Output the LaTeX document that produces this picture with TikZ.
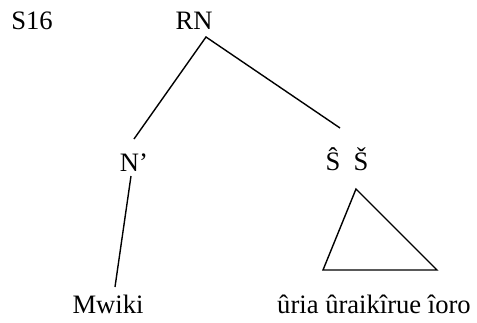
\documentclass[tikz,border=0pt]{standalone}
\usepackage{fontspec}
\setmainfont{Liberation Serif}
\usetikzlibrary{positioning,calc}
\tikzset{
  lab/.style={font=\fontsize{13.3}{16}\selectfont,inner sep=0pt,anchor=base},
  branch/.style={draw=black,line width=0.7pt},
}

\begin{document}
\begin{tikzpicture}[x=0.5pt,y=-0.5pt]
\useasboundingbox (0,0) rectangle (477,322);
% labels
\node[lab] (sid) at (32,29) {S16};
\node[lab] (rn) at (194,29) {RN};
\node[lab] (nbar) at (134,171) {N'};
\node[lab] (sbar) at (347,170) {Ŝ\enspace Š};
\node[lab] (mwiki) at (108,313) {Mwiki};
\node[lab] (phrase) at (374,313) {ûria ûraikîrue îoro};
% branch ends
\coordinate (rnfoot) at (206,37);
\coordinate (nbarhead) at (134,139);
\coordinate (sbarhead) at (340,128);
\coordinate (nbarfoot) at (131,176);
\coordinate (mwikihead) at (115,287);
\coordinate (tritop) at (356,189);
\coordinate (trileft) at (323,270);
\coordinate (triright) at (437,270);
% tree
\draw[branch] (nbarhead) -- (rnfoot) -- (sbarhead);
\draw[branch] (nbarfoot) -- (mwikihead);
\draw[branch,line join=miter] (tritop) -- (trileft) -- (triright) -- cycle;
\end{tikzpicture}
\end{document}
